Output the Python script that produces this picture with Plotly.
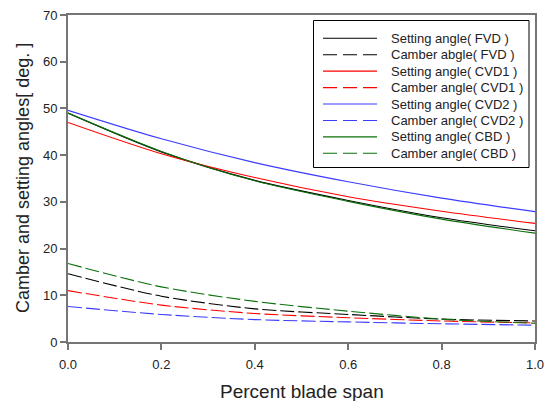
import plotly.graph_objects as go

# Spanwise stations (fraction of blade span)
span = [0.0, 0.2, 0.4, 0.6, 0.8, 1.0]

# Setting angles [deg]
setting_fvd = [49.0, 40.7, 34.6, 30.3, 26.6, 23.8]
setting_cvd1 = [47.0, 40.3, 35.2, 31.1, 28.0, 25.4]
setting_cvd2 = [49.6, 43.5, 38.4, 34.3, 30.8, 27.9]
setting_cbd = [49.0, 40.8, 34.5, 30.1, 26.3, 23.3]

# Camber angles [deg]
camber_fvd = [14.6, 9.8, 7.1, 5.9, 4.9, 4.5]
camber_cvd1 = [11.0, 7.9, 6.1, 5.2, 4.5, 4.1]
camber_cvd2 = [7.6, 5.9, 4.8, 4.3, 3.9, 3.6]
camber_cbd = [16.8, 11.8, 8.7, 6.6, 4.9, 4.0]

DASH = "14px,4px"
series = [
    ("Setting angle( FVD )", setting_fvd, "#000000", "solid"),
    ("Camber abgle( FVD )", camber_fvd, "#000000", DASH),
    ("Setting angle( CVD1 )", setting_cvd1, "#ff0000", "solid"),
    ("Camber angle( CVD1 )", camber_cvd1, "#ff0000", DASH),
    ("Setting angle( CVD2 )", setting_cvd2, "#3b3bff", "solid"),
    ("Camber angle( CVD2 )", camber_cvd2, "#3b3bff", DASH),
    ("Setting angle( CBD )", setting_cbd, "#0a700a", "solid"),
    ("Camber angle( CBD )", camber_cbd, "#0a700a", DASH),
]

# Page / margin geometry in pixels
W, H = 548, 401
ML, MR, MT, MB = 68, 13, 15, 59


def px_x(p):
    return (p - ML) / (W - ML - MR)


def px_y(p):
    return (H - MB - p) / (H - MT - MB)


fig = go.Figure()
for name, vals, color, dash in series:
    fig.add_trace(go.Scatter(
        x=span, y=vals, mode="lines", name=name, showlegend=False,
        line=dict(color=color, width=1.1, dash=dash, shape="spline", smoothing=0.8),
    ))

axis_common = dict(
    showgrid=False, zeroline=False, showline=True, linecolor="#757575",
    linewidth=2, mirror=True, ticks="outside", ticklen=6, tickwidth=1.5,
    tickcolor="#757575", tickfont=dict(size=13, color="#222222"),
    automargin=False,
)

shapes = []
annotations = []

# Boxed key in the upper right corner
box_l, box_r, box_t, box_b = 313.5, 529, 20.5, 167.5
shapes.append(dict(type="rect", xref="paper", yref="paper",
                   x0=px_x(box_l), x1=px_x(box_r), y0=px_y(box_b), y1=px_y(box_t),
                   line=dict(color="#000000", width=1), fillcolor="white", layer="above"))
row0, row_step = 38.3, 16.43
for i, (name, vals, color, dash) in enumerate(series):
    yy = px_y(row0 + i * row_step)
    shapes.append(dict(type="line", xref="paper", yref="paper",
                       x0=px_x(323), x1=px_x(377), y0=yy, y1=yy,
                       line=dict(color=color, width=1.1,
                                 dash="14px,6px" if dash != "solid" else "solid"),
                       layer="above"))
    annotations.append(dict(xref="paper", yref="paper", x=px_x(389), y=yy,
                            xanchor="left", yanchor="middle", text=name,
                            showarrow=False, font=dict(size=13, color="#222222")))

# Axis titles
annotations.append(dict(xref="paper", yref="paper", x=0.5, y=px_y(391),
                        xanchor="center", yanchor="middle", text="Percent blade span",
                        showarrow=False, font=dict(size=19, color="#222222")))
annotations.append(dict(xref="paper", yref="paper", x=px_x(22.5), y=0.5,
                        xanchor="center", yanchor="middle", textangle=-90,
                        text="Camber and setting angles[ deg. ]",
                        showarrow=False, font=dict(size=18, color="#222222")))

fig.update_layout(
    width=W, height=H,
    margin=dict(l=ML, r=MR, t=MT, b=MB),
    paper_bgcolor="white", plot_bgcolor="white",
    font=dict(family="Liberation Sans, Arial, sans-serif", color="#222222"),
    xaxis=dict(range=[0, 1], dtick=0.2, tickformat=".1f", ticklabelstandoff=3, **axis_common),
    yaxis=dict(range=[0, 70], dtick=10, **axis_common),
    shapes=shapes,
    annotations=annotations,
    showlegend=False,
)

fig.write_html("out.html")
